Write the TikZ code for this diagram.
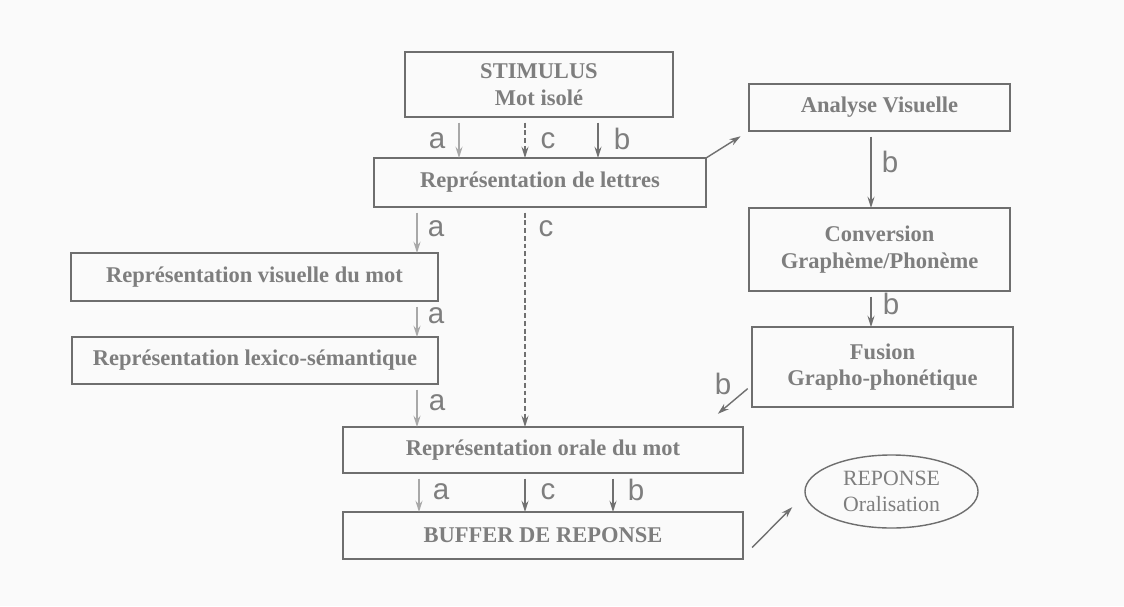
\documentclass[tikz,border=0pt]{standalone}
\usepackage{fontspec}
\setmainfont{Liberation Serif}
\newfontfamily\lblfont{Liberation Sans}
\usetikzlibrary{arrows.meta,shapes.geometric}

\definecolor{boxgray}{HTML}{6E6E6E}
\definecolor{txtgray}{HTML}{7E7E7E}
\definecolor{lightarr}{HTML}{A8A8A8}
\definecolor{darkarr}{HTML}{707070}
\definecolor{papercol}{HTML}{FAFAFA}

\tikzset{
    box/.style={draw=boxgray, line width=1.3pt, rectangle, inner sep=0pt,
        outer sep=0pt, align=center, text=txtgray,
        font=\fontsize{16}{19}\selectfont\bfseries},
    lbl/.style={text=txtgray, inner sep=0pt,
        font=\lblfont\fontsize{21}{21}\selectfont},
    patha/.style={draw=lightarr, line width=1pt,
        -{Stealth[length=8pt,width=5pt]}, shorten <=4pt},
    pathb/.style={draw=darkarr, line width=1pt,
        -{Stealth[length=8pt,width=5pt]}, shorten <=4pt},
    pathc/.style={pathb, dash pattern=on 3.5pt off 2pt}
}

\begin{document}
\begin{tikzpicture}[x=0.025cm, y=-0.025cm]

% Paper
\fill[papercol] (0,0) rectangle (1124,606);
\useasboundingbox (0,0) rectangle (1124,606);

% Central column
\node[box, minimum width=6.7cm, minimum height=1.625cm] (stim) at (539,84.5)
    {STIMULUS\\Mot isolé};
\node[box, minimum width=8.3cm, minimum height=1.225cm] (lett) at (540,182.5)
    {Représentation de lettres};
\node[box, minimum width=10cm, minimum height=1.15cm] (oral) at (543,450)
    {Représentation orale du mot};
\node[box, minimum width=10cm, minimum height=1.175cm] (buf) at (543,535.5)
    {BUFFER DE REPONSE};

% Left column (route a)
\node[box, minimum width=9.175cm, minimum height=1.2cm] (vis) at (254.5,277)
    {Représentation visuelle du mot};
\node[box, minimum width=9.15cm, minimum height=1.175cm] (lex) at (255,360.5)
    {Représentation lexico-sémantique};

% Right column (route b)
\node[box, minimum width=6.525cm, minimum height=1.175cm] (anav) at (879.5,107.5)
    {Analyse Visuelle};
\node[box, minimum width=6.525cm, minimum height=2.075cm] (conv) at (879.5,249.5)
    {Conversion\\Graphème/Phonème};
\node[box, minimum width=6.525cm, minimum height=2cm] (fus) at (882.5,367)
    {Fusion\\Grapho-phonétique};

% Output
\node[draw=boxgray, line width=1pt, ellipse, inner sep=0pt, minimum width=4.325cm,
    minimum height=1.825cm, align=center, text=txtgray,
    font=\fontsize{15.5}{18.5}\selectfont] (rep) at (891.5,491.5) {REPONSE\\Oralisation};

% Columns of the arrows
\coordinate (xa1) at (459,0);
\coordinate (xc1) at (525,0);
\coordinate (xb1) at (598,0);
\coordinate (xa2) at (417,0);
\coordinate (xa3) at (419,0);
\coordinate (xb3) at (613,0);
\coordinate (xb4) at (871,0);

% Stimulus to letters
\draw[patha] (stim.south -| xa1) -- (lett.north -| xa1);
\draw[pathc] (stim.south -| xc1) -- (lett.north -| xc1);
\draw[pathb] (stim.south -| xb1) -- (lett.north -| xb1);
\node[lbl] (la1) at (437,141) {a};
\node[lbl] (lc1) at (548,141) {c};
\node[lbl] (lb1) at (622,139) {b};

% Route a
\draw[patha] (lett.south -| xa2) -- (vis.north -| xa2);
\draw[patha] (vis.south -| xa2) -- (lex.north -| xa2);
\draw[patha] (lex.south -| xa2) -- (oral.north -| xa2);
\node[lbl] (la2) at (436,229) {a};
\node[lbl] (la3) at (436,316) {a};
\node[lbl] (la4) at (437,403) {a};

% Route c
\draw[pathc] (lett.south -| xc1) -- (oral.north -| xc1);
\node[lbl] (lc2) at (546,229) {c};

% Route b
\draw[pathb, shorten <=0pt, shorten >=7pt] (lett.north east) -- (anav.south west);
\draw[pathb] (anav.south -| xb4) -- (conv.north -| xb4);
\draw[pathb] (conv.south -| xb4) -- (fus.north -| xb4);
\draw[pathb, shorten <=4pt] ([yshift=-0.45cm]fus.west)
    -- ([xshift=-0.63cm,yshift=0.33cm]oral.north east);
\node[lbl] (lb2) at (890,162) {b};
\node[lbl] (lb3) at (891,304) {b};
\node[lbl] (lb4) at (723,384) {b};

% To the buffer
\draw[patha] (oral.south -| xa3) -- (buf.north -| xa3);
\draw[pathb] (oral.south -| xc1) -- (buf.north -| xc1);
\draw[pathb] (oral.south -| xb3) -- (buf.north -| xb3);
\node[lbl] (la5) at (441,492) {a};
\node[lbl] (lc3) at (548,492) {c};
\node[lbl] (lb5) at (636,490) {b};

% Buffer to answer
\draw[pathb, shorten <=0pt] ([xshift=0.225cm,yshift=-0.3cm]buf.east)
    -- ([xshift=-0.3cm,yshift=-0.39cm]rep.west);

\end{tikzpicture}
\end{document}
